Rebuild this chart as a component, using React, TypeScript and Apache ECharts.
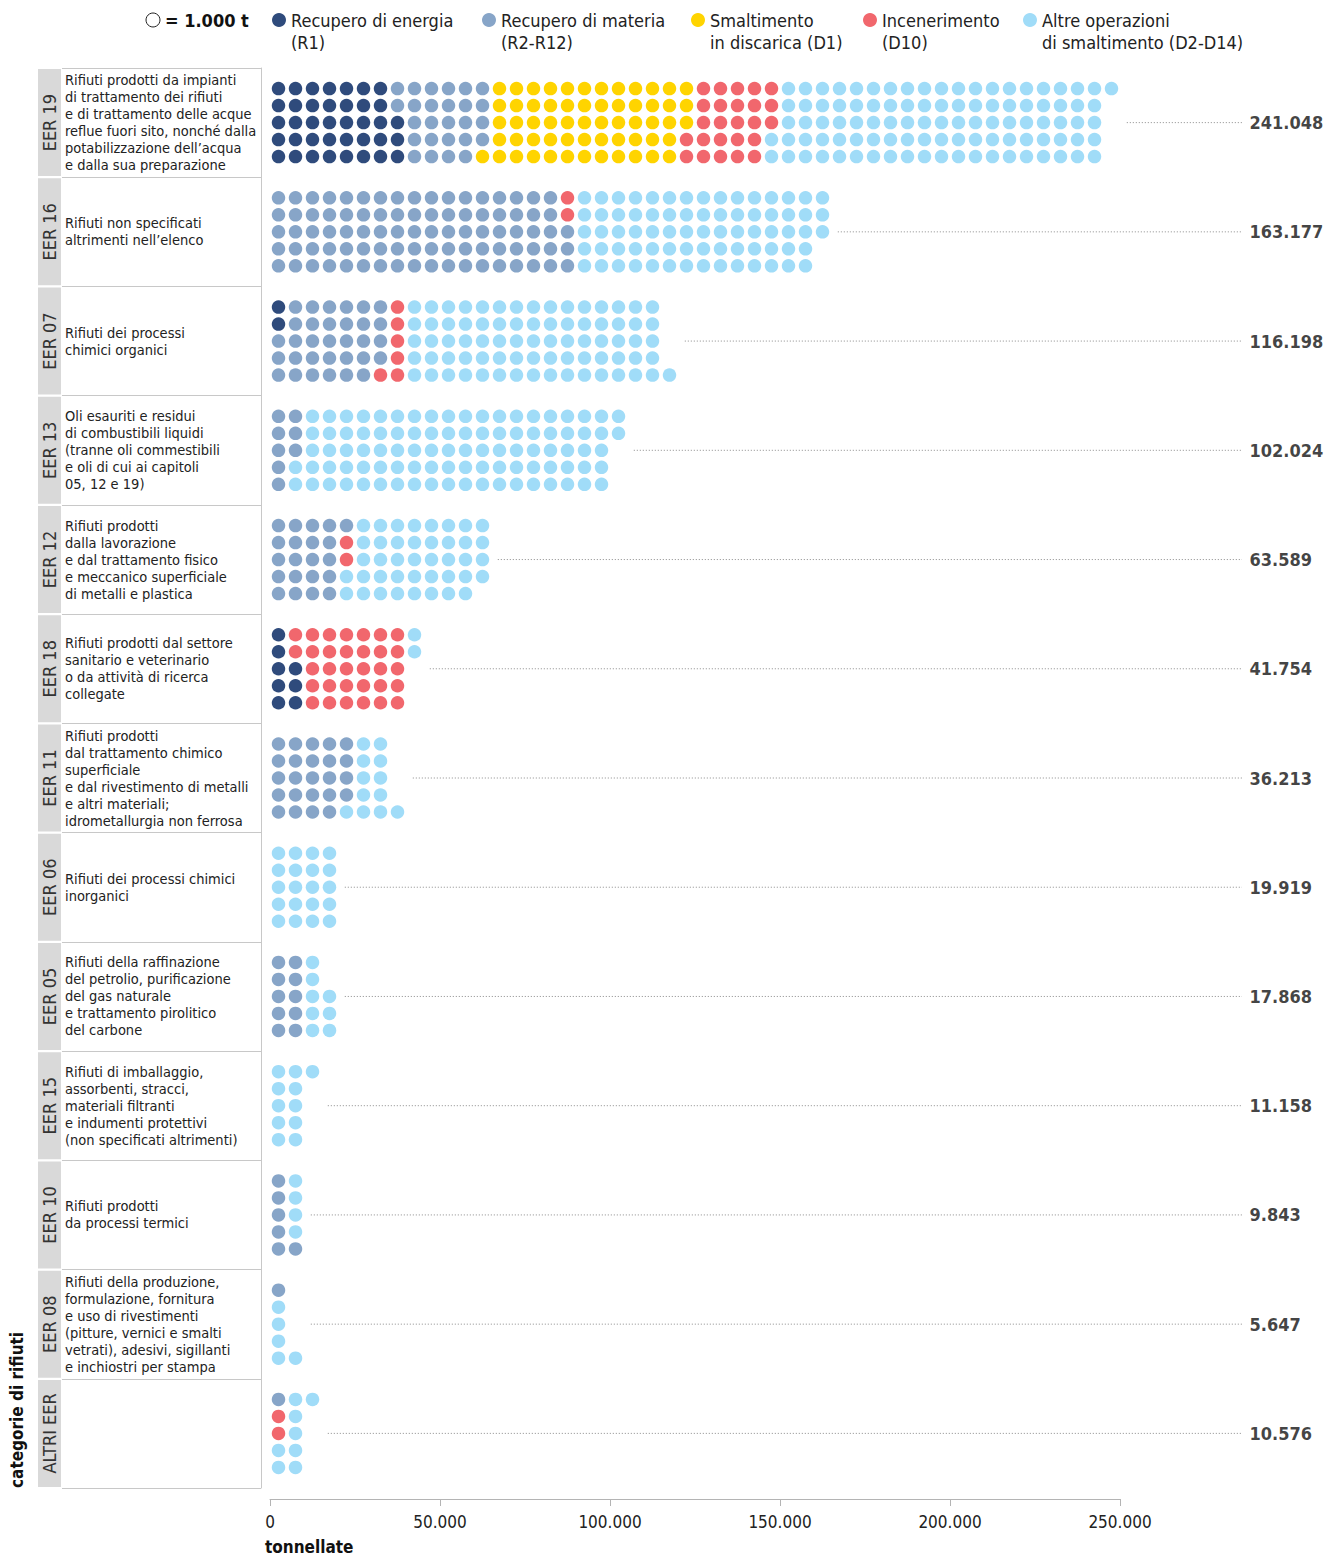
import React, { useEffect, useRef } from "react";
import * as echarts from "echarts";

const FONT = "'Liberation Sans Narrow', 'DejaVu Sans Condensed', 'Roboto Condensed', 'Noto Sans', sans-serif";

const typeNames = [
  "Recupero di energia\n(R1)",
  "Recupero di materia\n(R2-R12)",
  "Smaltimento\nin discarica (D1)",
  "Incenerimento\n(D10)",
  "Altre operazioni\ndi smaltimento (D2-D14)",
];
const typeColors = ["#2f4b7c", "#87a5c8", "#ffd400", "#f1676d", "#a0dcf8"];

const codes = ["EER 19", "EER 16", "EER 07", "EER 13", "EER 12", "EER 18", "EER 11", "EER 06", "EER 05", "EER 15", "EER 10", "EER 08", "ALTRI EER"];

const descriptions = [
  "Rifiuti prodotti da impianti\ndi trattamento dei rifiuti\ne di trattamento delle acque\nreflue fuori sito, nonché dalla\npotabilizzazione dell’acqua\ne dalla sua preparazione",
  "Rifiuti non specificati\naltrimenti nell’elenco",
  "Rifiuti dei processi\nchimici organici",
  "Oli esauriti e residui\ndi combustibili liquidi\n(tranne oli commestibili\ne oli di cui ai capitoli\n05, 12 e 19)",
  "Rifiuti prodotti\ndalla lavorazione\ne dal trattamento fisico\ne meccanico superficiale\ndi metalli e plastica",
  "Rifiuti prodotti dal settore\nsanitario e veterinario\no da attività di ricerca\ncollegate",
  "Rifiuti prodotti\ndal trattamento chimico\nsuperficiale\ne dal rivestimento di metalli\ne altri materiali;\nidrometallurgia non ferrosa",
  "Rifiuti dei processi chimici\ninorganici",
  "Rifiuti della raffinazione\ndel petrolio, purificazione\ndel gas naturale\ne trattamento pirolitico\ndel carbone",
  "Rifiuti di imballaggio,\nassorbenti, stracci,\nmateriali filtranti\ne indumenti protettivi\n(non specificati altrimenti)",
  "Rifiuti prodotti\nda processi termici",
  "Rifiuti della produzione,\nformulazione, fornitura\ne uso di rivestimenti\n(pitture, vernici e smalti\nvetrati), adesivi, sigillanti\ne inchiostri per stampa",
  "",
];

const totals = [241048, 163177, 116198, 102024, 63589, 41754, 36213, 19919, 17868, 11158, 9843, 5647, 10576];

// dots (1 dot = 1.000 t) per row: [R1, R2-R12, D1, D10, D2-D14]
const eer19 = [[7, 6, 12, 5, 20], [7, 6, 12, 5, 19], [8, 5, 12, 5, 19], [8, 5, 11, 5, 20], [8, 4, 12, 5, 20]];
const eer16 = [[0, 17, 0, 1, 15], [0, 17, 0, 1, 15], [0, 18, 0, 0, 15], [0, 18, 0, 0, 14], [0, 18, 0, 0, 14]];
const eer07 = [[1, 6, 0, 1, 15], [1, 6, 0, 1, 15], [0, 7, 0, 1, 15], [0, 7, 0, 1, 15], [0, 6, 0, 2, 16]];
const eer13 = [[0, 2, 0, 0, 19], [0, 2, 0, 0, 19], [0, 2, 0, 0, 18], [0, 1, 0, 0, 19], [0, 1, 0, 0, 19]];
const eer12 = [[0, 5, 0, 0, 8], [0, 4, 0, 1, 8], [0, 4, 0, 1, 8], [0, 4, 0, 0, 9], [0, 4, 0, 0, 8]];
const eer18 = [[1, 0, 0, 7, 1], [1, 0, 0, 7, 1], [2, 0, 0, 6, 0], [2, 0, 0, 6, 0], [2, 0, 0, 6, 0]];
const eer11 = [[0, 5, 0, 0, 2], [0, 5, 0, 0, 2], [0, 5, 0, 0, 2], [0, 5, 0, 0, 2], [0, 4, 0, 0, 4]];
const eer06 = [[0, 0, 0, 0, 4], [0, 0, 0, 0, 4], [0, 0, 0, 0, 4], [0, 0, 0, 0, 4], [0, 0, 0, 0, 4]];
const eer05 = [[0, 2, 0, 0, 1], [0, 2, 0, 0, 1], [0, 2, 0, 0, 2], [0, 2, 0, 0, 2], [0, 2, 0, 0, 2]];
const eer15 = [[0, 0, 0, 0, 3], [0, 0, 0, 0, 2], [0, 0, 0, 0, 2], [0, 0, 0, 0, 2], [0, 0, 0, 0, 2]];
const eer10 = [[0, 1, 0, 0, 1], [0, 1, 0, 0, 1], [0, 1, 0, 0, 1], [0, 1, 0, 0, 1], [0, 2, 0, 0, 0]];
const eer08 = [[0, 1, 0, 0, 0], [0, 0, 0, 0, 1], [0, 0, 0, 0, 1], [0, 0, 0, 0, 1], [0, 0, 0, 0, 2]];
const altri = [[0, 1, 0, 0, 2], [0, 0, 0, 1, 1], [0, 0, 0, 1, 1], [0, 0, 0, 0, 2], [0, 0, 0, 0, 2]];

const dotRows = [eer19, eer16, eer07, eer13, eer12, eer18, eer11, eer06, eer05, eer15, eer10, eer08, altri];

const xTicks = [0, 50000, 100000, 150000, 200000, 250000];

const DOT_T = 1000;
const ROWS = 5;
const COL_T = DOT_T * ROWS;
const BAND_PX = 1420 / codes.length;
const ROW_STEP = 17 / BAND_PX;
const PX_PER_T = 850 / 250000;
const OVERLAY_MAX = (1336 - 270) / PX_PER_T;
const LEADER_END = (1242 - 270) / PX_PER_T;
const LABEL_X = (1249 - 270) / PX_PER_T;

const fmt = (v: number) => String(Math.round(v)).replace(/\B(?=(\d{3})+(?!\d))/g, ".");

function buildDots(typeIdx: number) {
  const out: number[][] = [];
  dotRows.forEach((rows, ci) => {
    rows.forEach((counts, r) => {
      let col = 0;
      counts.forEach((n, t) => {
        for (let k = 0; k < n; k++) {
          if (t === typeIdx) out.push([(col + 0.5) * COL_T, ci + (r - (ROWS - 1) / 2) * ROW_STEP]);
          col++;
        }
      });
    });
  });
  return out;
}

export default function App() {
  const ref = useRef<HTMLDivElement>(null);
  useEffect(() => {
    document.body.style.margin = "0";
    const chart = echarts.init(ref.current!, null, { renderer: "svg" });

    const dotSeries = typeNames.map((name, t) => ({
      type: "scatter",
      name,
      xAxisIndex: 2,
      yAxisIndex: 2,
      symbol: "circle",
      symbolSize: 13.5,
      itemStyle: { color: typeColors[t], opacity: 1 },
      data: buildDots(t),
      silent: true,
    }));

    const leaderSeries = dotRows.map((rows, ci) => {
      const maxCols = Math.max(...rows.map((r) => r.reduce((a, b) => a + b, 0)));
      return {
        type: "line",
        xAxisIndex: 3,
        yAxisIndex: 3,
        symbol: "none",
        silent: true,
        lineStyle: { color: "#8a8a8a", width: 1, type: [1, 2] },
        data: [
          [maxCols * COL_T + 2000, ci],
          [LEADER_END, ci],
        ],
      };
    });

    const valueSeries = {
      type: "scatter",
      xAxisIndex: 3,
      yAxisIndex: 3,
      symbolSize: 1,
      itemStyle: { color: "rgba(0,0,0,0)" },
      silent: true,
      label: {
        show: true,
        position: "right",
        distance: 0,
        formatter: (p: any) => fmt(totals[p.dataIndex]),
        fontFamily: FONT,
        fontWeight: "bold",
        fontSize: 18,
        color: "#111",
      },
      data: totals.map((v, i) => [LABEL_X, i]),
    };

    const legendLefts = [272, 482, 691, 863, 1023];

    const option: any = {
      animation: false,
      textStyle: { fontFamily: FONT },
      legend: typeNames.map((n, i) => ({
        data: [n],
        left: legendLefts[i],
        top: -13,
        padding: 0,
        itemWidth: 14,
        itemHeight: 14,
        icon: "circle",
        selectedMode: false,
        formatter: (name: string) => "\n" + name,
        textStyle: { fontFamily: FONT, fontSize: 18, lineHeight: 22, color: "#222" },
      })),
      grid: [
        { left: 38, width: 23, top: 68, height: 1420 },
        { left: 62, width: 199, top: 68, height: 1420 },
        { left: 270, width: 850, top: 68, height: 1420 },
        { left: 270, width: 1066, top: 68, height: 1420 },
      ],
      xAxis: [
        { gridIndex: 0, type: "value", min: 0, max: 1, show: false },
        { gridIndex: 1, type: "value", min: 0, max: 1, show: false },
        {
          gridIndex: 2,
          type: "value",
          position: "bottom",
          min: xTicks[0],
          max: xTicks[xTicks.length - 1],
          interval: 50000,
          offset: 11,
          axisLine: { show: true, onZero: false, lineStyle: { color: "#b4b4b4", width: 1 } },
          axisTick: { show: true, length: 7, lineStyle: { color: "#b4b4b4" } },
          splitLine: { show: false },
          axisLabel: { formatter: (v: number) => fmt(v), fontFamily: FONT, fontSize: 17, color: "#222", margin: 14 },
        },
        { gridIndex: 3, type: "value", min: 0, max: OVERLAY_MAX, show: false },
      ],
      yAxis: [
        { gridIndex: 0, type: "category", data: codes, inverse: true, show: false },
        {
          gridIndex: 1,
          type: "category",
          data: codes,
          inverse: true,
          position: "right",
          axisLine: { show: true, onZero: false, lineStyle: { color: "#c8c8c8" } },
          axisTick: { show: false },
          axisLabel: { show: false, interval: 0 },
          splitLine: { show: true, interval: 0, lineStyle: { color: "#c8c8c8" } },
        },
        { gridIndex: 2, type: "value", min: -0.5, max: codes.length - 0.5, inverse: true, show: false },
        { gridIndex: 3, type: "value", min: -0.5, max: codes.length - 0.5, inverse: true, show: false },
      ],
      graphic: [
        { type: "circle", shape: { cx: 153, cy: 20, r: 7 }, style: { fill: "#fff", stroke: "#222", lineWidth: 1 } },
        { type: "text", x: 165, y: 20, style: { text: "= 1.000 t", fontFamily: FONT, fontWeight: "bold", fontSize: 18, fill: "#111", verticalAlign: "middle" } },
        { type: "text", x: 265, y: 1547, style: { text: "tonnellate", fontFamily: FONT, fontWeight: "bold", fontSize: 17, fill: "#111", verticalAlign: "middle" } },
        {
          type: "text",
          x: 17,
          y: 1488,
          rotation: Math.PI / 2,
          style: { text: "categorie di rifiuti", fontFamily: FONT, fontWeight: "bold", fontSize: 17, fill: "#111", verticalAlign: "middle", align: "left" },
        },
      ],
      series: [
        {
          type: "bar",
          xAxisIndex: 0,
          yAxisIndex: 0,
          barWidth: 107,
          silent: true,
          itemStyle: { color: "#d9d9d9" },
          label: { show: true, position: "inside", rotate: 90, formatter: (p: any) => codes[p.dataIndex], fontFamily: FONT, fontSize: 18, color: "#333" },
          data: codes.map(() => 1),
        },
        {
          type: "bar",
          xAxisIndex: 1,
          yAxisIndex: 1,
          barWidth: 107,
          silent: true,
          itemStyle: { color: "rgba(0,0,0,0)" },
          label: {
            show: true,
            position: "insideLeft",
            distance: 3,
            formatter: (p: any) => descriptions[p.dataIndex],
            fontFamily: FONT,
            fontSize: 14.5,
            lineHeight: 17,
            color: "#222",
          },
          data: codes.map(() => 1),
        },
        ...dotSeries,
        ...leaderSeries,
        valueSeries,
      ],
    };
    chart.setOption(option);
    return () => chart.dispose();
  }, []);
  return <div ref={ref} style={{ width: 1336, height: 1557 }} />;
}
